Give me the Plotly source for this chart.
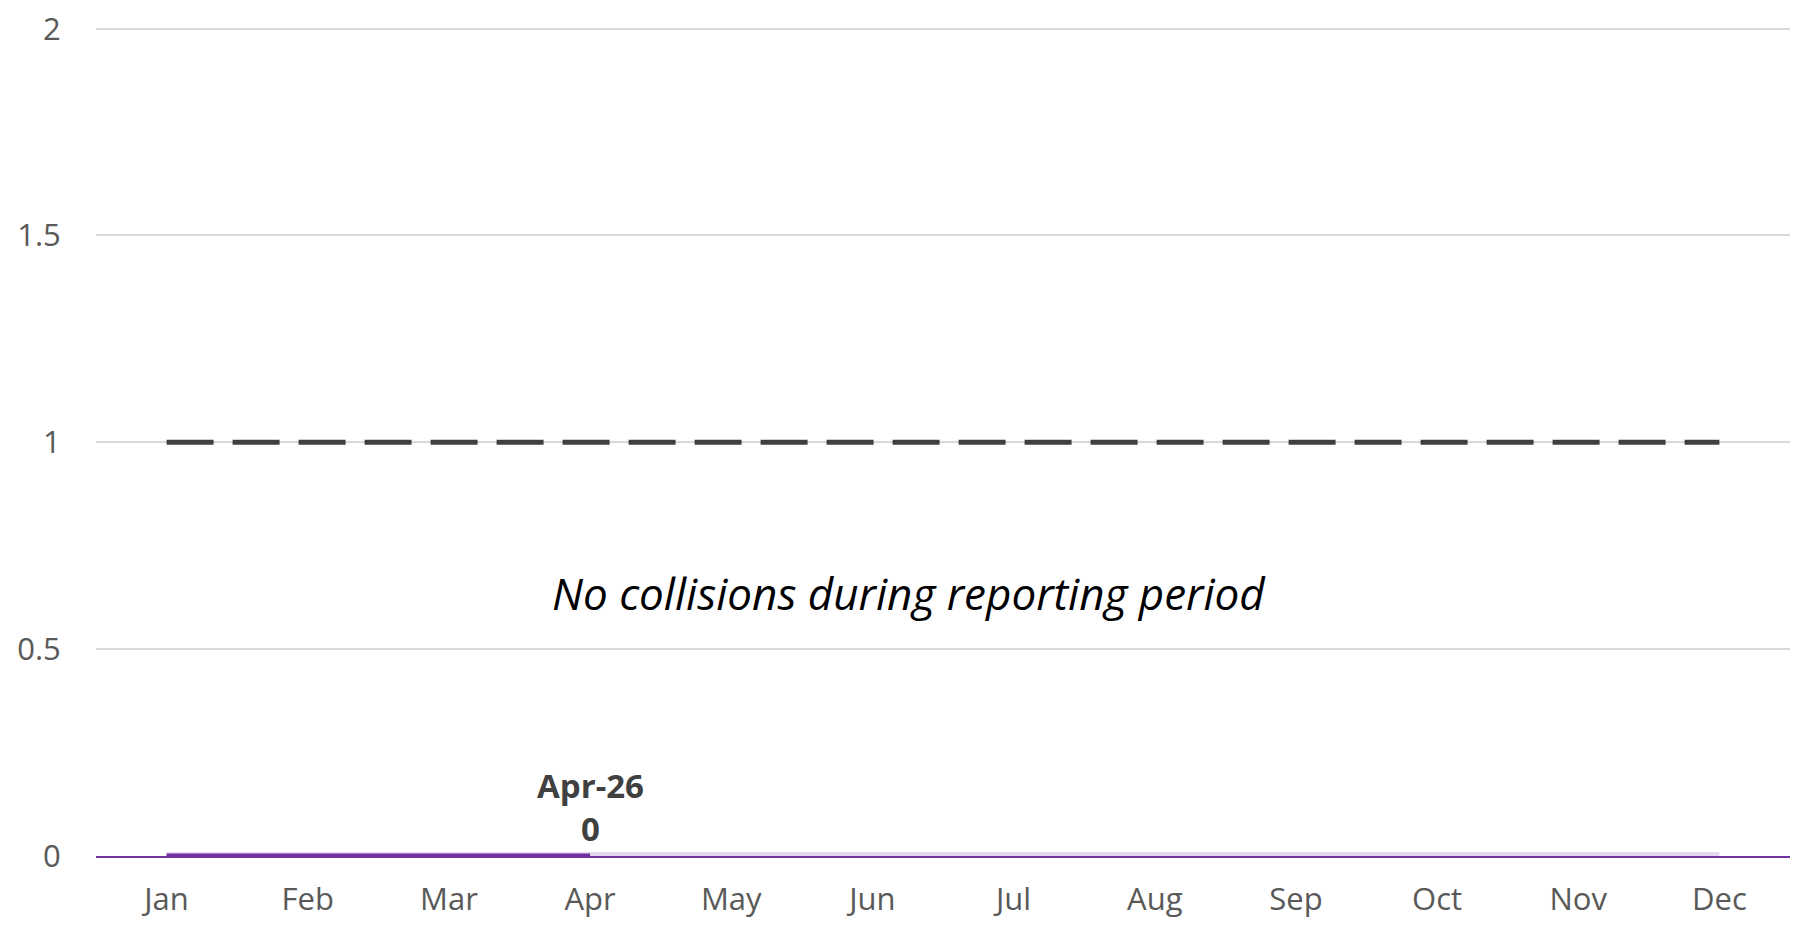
import plotly.graph_objects as go

# data
months = ["Jan", "Feb", "Mar", "Apr", "May", "Jun", "Jul", "Aug", "Sep", "Oct", "Nov", "Dec"]
collisions = [0, 0, 0, 0]          # reported so far (Jan-Apr)
year_baseline = [0] * 12           # full-year track
target = [1] * 12                  # threshold line
y_ticks = [0, 0.5, 1, 1.5, 2]
y_tick_text = ["0", "0.5", "1", "1.5", "2"]
last_label = "Apr-26"
message = "No collisions during reporting period"

FONT = "'Source Sans Pro', 'Open Sans', sans-serif"

fig = go.Figure()

# light full-year band
fig.add_trace(go.Scatter(
    x=months, y=year_baseline, mode="lines",
    line=dict(color="#E4D8F0", width=8),
    hoverinfo="skip", showlegend=False, cliponaxis=False
))

# dashed target
fig.add_trace(go.Scatter(
    x=months, y=target, mode="lines",
    line=dict(color="#404040", width=5, dash="47px,19px"),
    hoverinfo="skip", showlegend=False
))

# actual collisions
fig.add_trace(go.Scatter(
    x=months[:len(collisions)], y=collisions, mode="lines",
    line=dict(color="#7030A0", width=5),
    showlegend=False, cliponaxis=False
))

# label on latest point
fig.add_annotation(
    x=months[len(collisions) - 1], y=collisions[-1],
    text=f"<b>{last_label}</b><br><b>{collisions[-1]}</b>",
    showarrow=False, yanchor="bottom", yshift=3,
    font=dict(family=FONT, size=33, color="#404040")
)

fig.add_annotation(
    x=0.4797, xref="paper", y=0.635, yref="y",
    text=f"<i>{message}</i>", showarrow=False,
    font=dict(family=FONT, size=44, color="#000000")
)

# page body adds an 8px margin, so the figure is a bit smaller than the window
fig.update_layout(
    width=1783, height=913,
    margin=dict(l=88, r=1, t=19, b=65),
    plot_bgcolor="white", paper_bgcolor="white",
    font=dict(family=FONT, color="#595959", size=31),
)
fig.update_xaxes(
    type="category", range=[-0.5, 11.5], automargin=False,
    showgrid=False, showline=True, linecolor="#7030A0", linewidth=2,
    ticks="outside", ticklen=15, tickcolor="rgba(0,0,0,0)",
    tickfont=dict(size=31, color="#595959")
)
fig.update_yaxes(
    range=[0, 2.004], tickvals=y_ticks, ticktext=y_tick_text, automargin=False,
    ticklabeloverflow="allow",
    showgrid=True, gridcolor="#D9D9D9", gridwidth=1.5,
    zeroline=False, showline=False,
    ticks="outside", ticklen=28, tickcolor="rgba(0,0,0,0)",
    tickfont=dict(size=31, color="#595959")
)

fig.write_html("out.html")
